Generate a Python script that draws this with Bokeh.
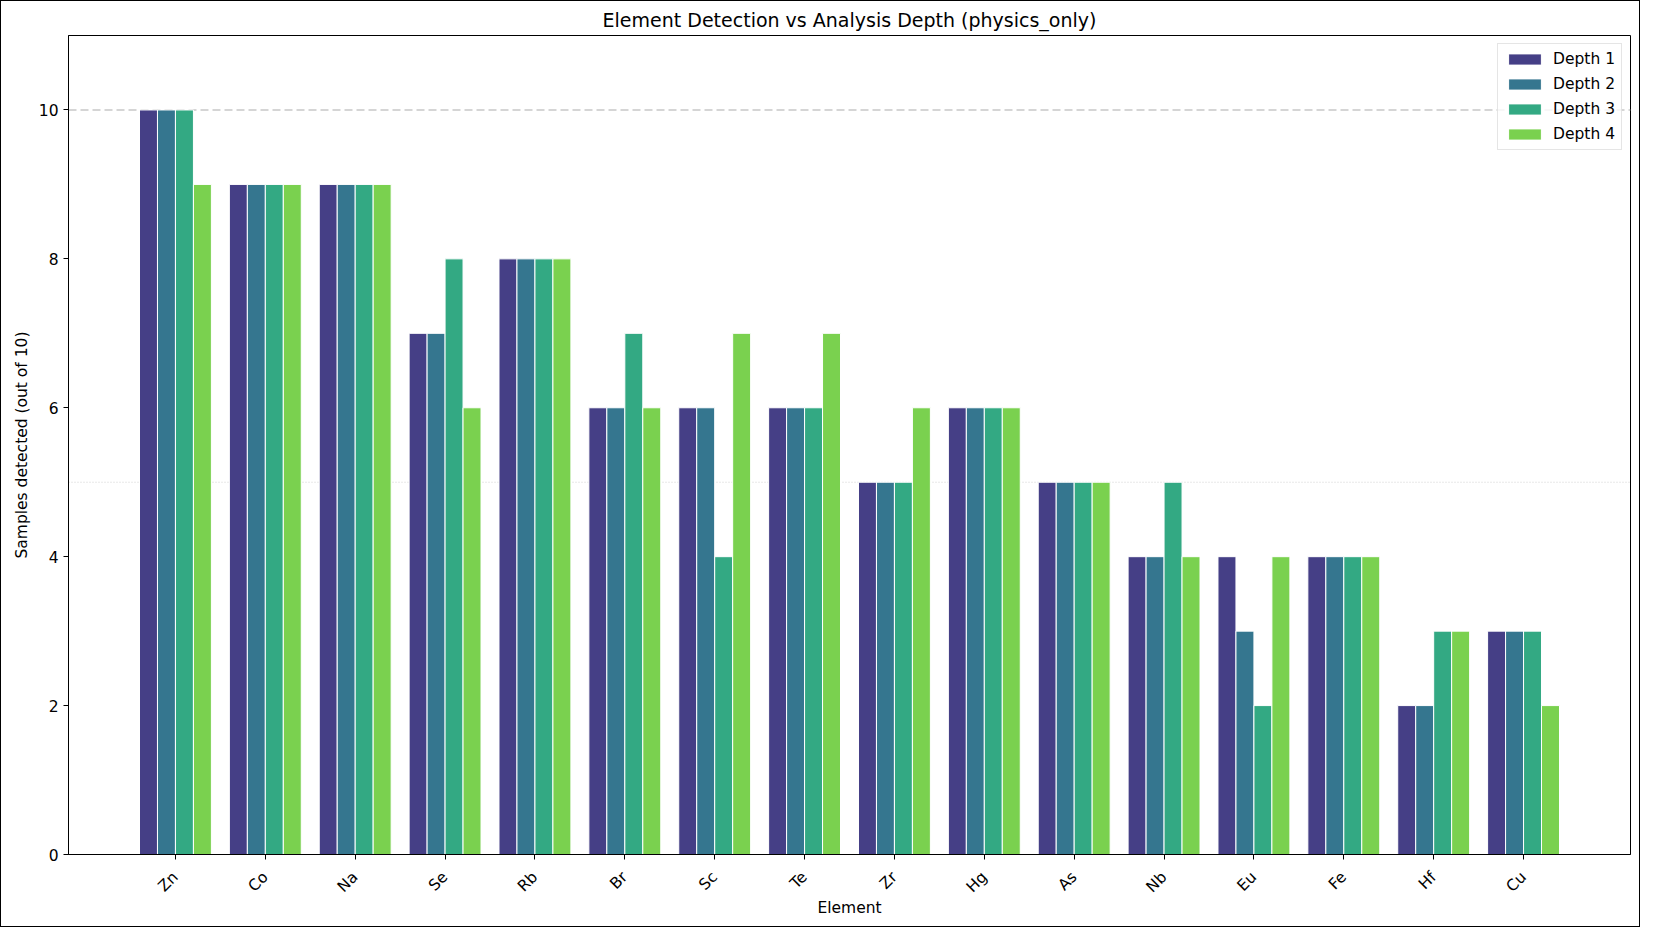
import numpy as np
from bokeh.plotting import figure
from bokeh.models import ColumnDataSource, Range1d, FixedTicker, Span, Legend, LegendItem
from bokeh.embed import file_html
from bokeh.resources import INLINE

# data
elements = ["Zn", "Co", "Na", "Se", "Rb", "Br", "Sc", "Te",
            "Zr", "Hg", "As", "Nb", "Eu", "Fe", "Hf", "Cu"]
depth_1 = [10, 9, 9, 7, 8, 6, 6, 6, 5, 6, 5, 4, 4, 4, 2, 3]
depth_2 = [10, 9, 9, 7, 8, 6, 6, 6, 5, 6, 5, 4, 3, 4, 2, 3]
depth_3 = [10, 9, 9, 8, 8, 7, 4, 6, 5, 6, 5, 5, 2, 4, 3, 3]
depth_4 = [9, 9, 9, 6, 8, 6, 7, 7, 6, 6, 5, 4, 4, 4, 3, 2]
depth_labels = ["Depth 1", "Depth 2", "Depth 3", "Depth 4"]
y_ticks = [0, 2, 4, 6, 8, 10]

colors = ["#453f86", "#35768f", "#33a983", "#7ad14f"]
offsets = [-0.3, -0.1, 0.1, 0.3]
FONT = "DejaVu Sans"

idx = np.arange(len(elements))

p = figure(width=1640, height=927, output_backend="svg", toolbar_location=None,
           title="Element Detection vs Analysis Depth (physics_only)",
           x_range=Range1d(-1.19, len(elements) - 1 + 1.19), y_range=Range1d(0, 11),
           min_border_left=67, min_border_right=11, min_border_top=0, min_border_bottom=74)
p.styles = {"border": "1px solid black"}

p.title.align = "center"
p.title.text_font = FONT
p.title.text_font_size = "19px"
p.title.text_font_style = "normal"
p.title.text_color = "black"

# reference lines sit behind the bars
p.add_layout(Span(location=10, dimension="width", line_color="#c8c8c8",
                  line_width=1.5, line_dash="8 4", level="underlay"))
p.add_layout(Span(location=5, dimension="width", line_color="#d0d0d0",
                  line_width=1, line_dash="1 2", level="underlay"))

items = []
for series, label, color, off in zip([depth_1, depth_2, depth_3, depth_4], depth_labels, colors, offsets):
    src = ColumnDataSource(dict(x=idx + off, top=series))
    r = p.vbar(x="x", top="top", width=0.2, source=src, fill_color=color,
               line_color="white", line_width=1)
    items.append(LegendItem(label=label, renderers=[r]))

legend = Legend(items=items, location="top_right")
legend.label_text_font = FONT
legend.label_text_font_size = "15.5px"
legend.label_text_color = "black"
legend.glyph_width = 41
legend.glyph_height = 14
legend.label_height = 18
legend.spacing = 7
legend.padding = 6
legend.margin = 8
legend.label_standoff = 8
legend.border_line_color = "#cccccc"
legend.background_fill_alpha = 0.8
p.add_layout(legend)

p.xgrid.visible = False
p.ygrid.visible = False
p.outline_line_color = "black"
p.outline_line_width = 1

p.xaxis.ticker = FixedTicker(ticks=list(idx))
p.xaxis.major_label_overrides = {int(i): e for i, e in enumerate(elements)}
p.xaxis.major_label_orientation = np.pi / 4
p.yaxis.ticker = FixedTicker(ticks=y_ticks)
p.xaxis.axis_label = "Element"
p.yaxis.axis_label = "Samples detected (out of 10)"

for ax in [p.xaxis[0], p.yaxis[0]]:
    ax.axis_label_text_font = FONT
    ax.axis_label_text_font_size = "15.5px"
    ax.axis_label_text_font_style = "normal"
    ax.axis_label_text_color = "black"
    ax.major_label_text_font = FONT
    ax.major_label_text_font_size = "15.5px"
    ax.major_label_text_color = "black"
    ax.axis_line_color = "black"
    ax.major_tick_line_color = "black"
    ax.major_tick_out = 5
    ax.major_tick_in = 0
    ax.minor_tick_line_color = None
    ax.major_label_standoff = 5
    ax.axis_label_standoff = 5

p.xaxis.major_label_standoff = 15
p.xaxis.axis_label_standoff = -6

open("out.html", "w").write(file_html(p, INLINE))
